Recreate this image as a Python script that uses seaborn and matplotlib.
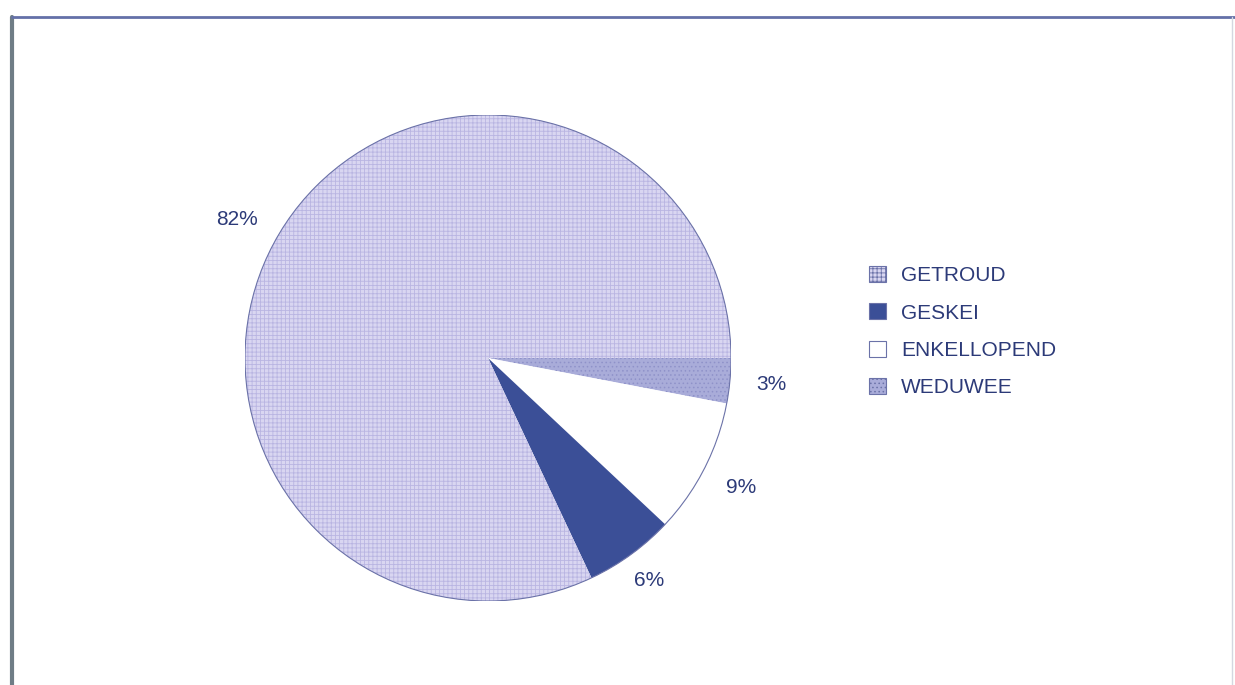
import matplotlib
matplotlib.use("Agg")
import matplotlib.pyplot as plt
import seaborn as sns
from matplotlib.patches import Circle, Patch
from matplotlib.lines import Line2D

# Data (pie drawn clockwise from 3 o'clock)
categories = ["WEDUWEE", "ENKELLOPEND", "GESKEI", "GETROUD"]
values = [3, 9, 6, 82]
legend_order = ["GETROUD", "GESKEI", "ENKELLOPEND", "WEDUWEE"]

colors = {"GETROUD": "#d9d6f1", "GESKEI": "#3b4f97",
          "ENKELLOPEND": "#ffffff", "WEDUWEE": "#a9acd9"}
hatch_colors = {"GETROUD": "#b9b5e2", "GESKEI": "#314488",
                "ENKELLOPEND": "#ffffff", "WEDUWEE": "#8f92c9"}
hatches = {"GETROUD": "++++", "GESKEI": "", "ENKELLOPEND": "", "WEDUWEE": "...."}
# label positions as (radius factor) per slice
label_dist = {"WEDUWEE": 1.17, "ENKELLOPEND": 1.17, "GESKEI": 1.13, "GETROUD": 1.18}

sns.set_theme(style="white")
plt.rcParams['font.family'] = ['Liberation Sans', 'DejaVu Sans']
plt.rcParams['hatch.linewidth'] = 0.6
text_color = "#2c3a78"

fig = plt.figure(figsize=(12.35, 6.85), dpi=100)
fig.patch.set_facecolor("white")

# frame of the scanned chart
fig.add_artist(Line2D([12/1235, 12/1235], [0, 1 - 17/685], color="#6f7d86", lw=3.0,
                      transform=fig.transFigure))
fig.add_artist(Line2D([12/1235, 1], [1 - 17/685, 1 - 17/685], color="#6470a8", lw=2.0,
                      transform=fig.transFigure))
fig.add_artist(Line2D([1232/1235, 1232/1235], [0, 1 - 17/685], color="#d4d7e0", lw=1.0,
                      transform=fig.transFigure))

cx, cy, r = 488, 358, 243
ax = fig.add_axes([(cx - r) / 1235, (685 - cy - r) / 685, 2 * r / 1235, 2 * r / 685])

wedges, texts, autotexts = ax.pie(
    values, startangle=0, counterclock=False, radius=1,
    colors=[colors[c] for c in categories],
    autopct=lambda p: f"{p:.0f}%", pctdistance=1.17,
    wedgeprops=dict(linewidth=0),
    textprops=dict(color=text_color, fontsize=15))
import numpy as np
for w, c, t in zip(wedges, categories, autotexts):
    w.set_edgecolor(hatch_colors[c])
    if hatches[c]:
        w.set_hatch(hatches[c])
    ang = np.deg2rad((w.theta1 + w.theta2) / 2)
    if c == "GETROUD":
        ang = np.deg2rad((w.theta1 + w.theta2) / 2 + 3.5)
    d = label_dist[c]
    t.set_position((d * np.cos(ang), d * np.sin(ang)))
ax.add_patch(Circle((0, 0), 1.0, fill=False, edgecolor="#6b72a8", lw=0.8))
ax.set_xlim(-1, 1)
ax.set_ylim(-1, 1)
ax.set_aspect("equal")
ax.axis("off")

handles = [Patch(facecolor=colors[c], edgecolor="#6b72a8", linewidth=0.8,
                 hatch=hatches[c]) for c in legend_order]
leg = fig.legend(handles, legend_order, loc="upper left",
                 bbox_to_anchor=(850/1235, 1 - 247/685), frameon=False,
                 fontsize=15, handlelength=0.82, handleheight=0.82,
                 labelspacing=0.87, handletextpad=0.72)
for t in leg.get_texts():
    t.set_color(text_color)

fig.savefig("out.png", dpi=100, facecolor="white")
